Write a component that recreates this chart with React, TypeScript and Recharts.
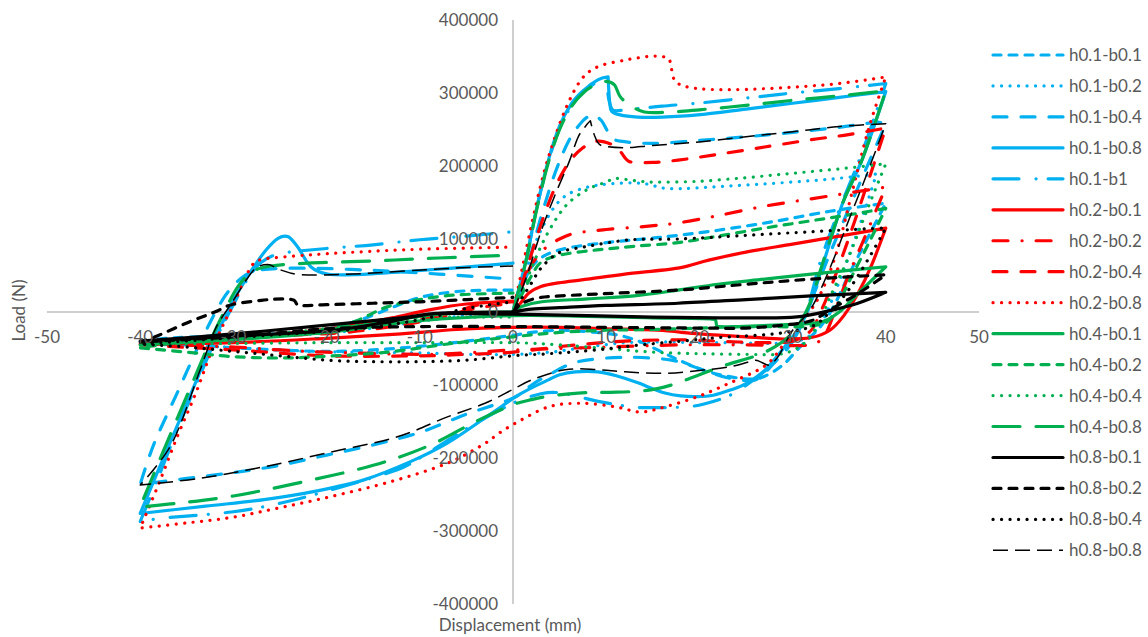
import React from "react"
import { LineChart, Line, XAxis, YAxis, ReferenceLine, ReferenceDot } from "recharts"

type Pt = [number, number]

// displacement (mm), load (N) — each loop: 0 -> +40 -> -40 -> 0
const h01b01: Pt[] = [
  [0, 0], [1, 35000], [2, 62000], [3.5, 78000], [6, 88000], [10, 95000], [14, 100000], [17.7, 105000],
  [22, 112000], [28, 124000], [34, 138000], [40, 149000],
  [38, 100000], [36, 50000], [34.5, 10000], [33, -20000], [31, -45000], [29, -72000], [27, -88000],
  [25.5, -92000], [23, -88000], [20.5, -80000], [18, -67000], [16, -55000], [13.5, -40000], [11, -31000],
  [8, -27000], [5, -25000], [2, -28000], [0, -32000], [-5, -40000], [-10, -47000], [-15, -52000],
  [-20, -54000], [-25, -52000], [-30, -49000], [-35, -45000], [-40, -43000],
  [-38, -37000], [-34, -34000], [-28, -31000], [-22, -27000], [-19, -21000], [-16, -9000], [-13, 6000],
  [-10.5, 18000], [-8, 25000], [-5, 29000], [-2, 30000], [0, 30000],
]

const h01b02: Pt[] = [
  [0, 0], [1, 40000], [2, 80000], [3, 112000], [4.5, 145000], [6, 162000], [8, 171000], [10, 175000],
  [12.7, 177000], [14.5, 175000], [16, 170000], [18, 169000], [21, 171000], [25, 174000], [30, 178000],
  [34, 182000], [37, 186000], [39, 189000],
  [37.5, 130000], [36, 75000], [34.5, 25000], [33.5, -5000], [32.5, -25000], [31, -38000], [28, -43000],
  [24, -42000], [20, -42000], [16, -41000], [12, -42000], [8, -48000], [4, -55000], [0, -58000],
  [-5, -58000], [-10, -56000], [-16, -55000], [-22, -54000], [-28, -50000], [-34, -46000], [-40, -44000],
  [-38, -40000], [-32, -36000], [-26, -33000], [-20, -29000], [-15, -22000], [-10, -13000], [-6, -6000],
  [-3, -2000], [0, -1000],
]

const h01b04: Pt[] = [
  [0, 0], [1.5, 60000], [3, 130000], [4.5, 190000], [6, 235000], [7.5, 262000], [8.5, 270000],
  [9.5, 262000], [10.5, 240000], [11.5, 234000], [15, 231000], [20, 235000], [25, 240000], [30, 246000],
  [35, 253000], [39, 260000], [40, 258000],
  [37, 170000], [34, 80000], [31.5, 0], [30, -40000], [28, -70000], [26, -93000], [23, -90000],
  [20.5, -80000], [17, -66000], [12, -62000], [7, -68000], [4, -85000], [2, -100000], [0, -118000],
  [-5, -140000], [-10, -165000], [-15, -182000], [-20, -196000], [-25, -210000], [-30, -220000],
  [-35, -228000], [-40, -236000],
  [-38.5, -180000], [-36, -110000], [-33.5, -40000], [-31, 20000], [-29, 48000], [-27, 58000],
  [-22, 60000], [-15, 57000], [-8, 52000], [0, 45000],
]

const h01b08: Pt[] = [
  [0, 0], [1.4, 71000], [2.5, 140000], [3.8, 208000], [5, 255000], [6.3, 286000], [7.7, 305000],
  [9.1, 318000], [10.2, 322000], [10.5, 277000], [11.5, 270000], [13.4, 267000], [16, 267000],
  [19.8, 270000], [25, 278000], [30, 286000], [35, 294000], [40, 302000],
  [37.5, 210000], [35.4, 150000], [33.5, 75000], [31.8, 7000], [30.5, -25000], [29, -50000], [27, -80000],
  [25, -98000], [23.3, -107000], [21.5, -114000], [19.8, -116000], [18, -115000], [16.3, -111000],
  [14.8, -104000], [13.4, -97000], [11, -87000], [9.1, -82000], [6.7, -82000], [5, -86000],
  [3.8, -93000], [2, -104000], [0.3, -116000], [-3, -145000], [-7.1, -180000], [-11, -205000],
  [-16, -230000], [-21, -245000], [-26.7, -257000], [-33, -266000], [-40, -276000],
  [-38, -215000], [-36, -155000], [-34, -95000], [-32.5, -48000], [-31, -10000], [-30.2, 12000],
  [-28.8, 42000], [-27.8, 62000], [-26.5, 85000], [-25.2, 101000], [-24.1, 103000], [-23.1, 89000],
  [-21.7, 62000], [-19.9, 52000], [-17.1, 51000], [-12, 55000], [-6.5, 60000], [0, 67000],
]

const h01b1: Pt[] = [
  [0, 0], [1.4, 71000], [2.5, 140000], [3.8, 206000], [5, 252000], [6.3, 283000], [7.7, 303000],
  [9.1, 316000], [10, 320000], [10.3, 290000], [10.8, 276000], [13, 278000], [16, 282000],
  [19.8, 286000], [25, 293000], [30, 300000], [35, 306000], [40, 313000],
  [37.5, 220000], [35, 140000], [33, 70000], [31.5, 0], [30, -40000], [28, -70000], [25.8, -93000],
  [23.3, -114000], [20.5, -126000], [18.4, -130000], [15, -131000], [12.7, -130000], [9, -122000],
  [5.2, -111000], [3, -112000], [0, -125000], [-5, -160000], [-10, -200000], [-12.4, -216000],
  [-19.6, -244000], [-25, -262000], [-30.2, -274000], [-37.3, -282000], [-40, -287000],
  [-38, -225000], [-36, -160000], [-34, -100000], [-32, -40000], [-30, 10000], [-28.5, 45000],
  [-27, 68000], [-25, 80000], [-20, 87000], [-15, 92000], [-10, 99000], [-5, 104000], [0, 110000],
]

const h02b01: Pt[] = [
  [0, 0], [0.8, 12000], [1.7, 26000], [3, 35000], [4.9, 40000], [8, 45000], [12, 52000], [17.7, 60000],
  [21, 71000], [25, 82000], [30, 93000], [35, 104000], [40, 115000],
  [38.5, 65000], [37, 25000], [35.5, -5000], [34, -25000], [32, -35000], [29, -37000], [25, -34000],
  [20, -30000], [15.5, -25000], [10, -23000], [5, -21000], [0, -21000], [-6, -24000], [-12, -30000],
  [-20, -36000], [-30, -42000], [-40, -44000],
  [-36, -38000], [-30, -34000], [-24, -29000], [-18, -20000], [-13, -8000], [-9, 3000], [-5, 11000],
  [0, 15000],
]

const h02b02: Pt[] = [
  [0, 0], [1, 35000], [2, 65000], [3.5, 88000], [5, 100000], [6.7, 108000], [10, 113000], [14, 117000],
  [17.7, 122000], [22, 132000], [27, 145000], [32, 155000], [36, 163000], [40, 171000],
  [38, 110000], [36, 50000], [34.5, 0], [33.5, -30000], [32, -45000], [25, -45000], [18, -45000],
  [10, -48000], [5, -50000], [0, -52000], [-5, -56000], [-10, -58000], [-20, -55000], [-25, -52000],
  [-30, -48000], [-40, -43000],
  [-32, -36000], [-24, -30000], [-18, -24000], [-12, -15000], [-7, -2000], [-3.6, 10000], [0, 14000],
]

const h02b04: Pt[] = [
  [0, 0], [1.5, 60000], [3, 120000], [4.5, 170000], [6, 205000], [7.5, 225000], [9, 234000],
  [10.5, 230000], [11.5, 220000], [12.5, 206000], [15, 205000], [17.7, 208000], [22, 216000],
  [27, 226000], [32, 236000], [36, 243000], [40, 252000],
  [38, 175000], [36, 100000], [34, 30000], [33, 0], [32, -25000], [30, -40000], [27, -42000],
  [22, -40000], [18, -38000], [12, -40000], [6, -46000], [0, -55000], [-5, -58000], [-10, -60000],
  [-20, -60000], [-30, -52000], [-40, -45000],
  [-32, -38000], [-24, -32000], [-18, -28000], [-12, -18000], [-8, -8000], [-4, 5000], [0, 12000],
]

const h02b08: Pt[] = [
  [0, 0], [1, 60000], [2, 120000], [3, 175000], [4, 220000], [5.6, 277000], [7.3, 318000], [9.1, 336000],
  [12, 345000], [14.5, 350000], [16, 350000], [16.8, 345000], [17.3, 318000], [18.5, 309000],
  [21, 305000], [25, 305000], [30, 308000], [35, 313000], [40, 322000],
  [38.2, 253000], [36.5, 170000], [34.7, 81000], [33, 25000], [31.5, -5000], [29.7, -29000],
  [28.6, -52000], [26.9, -75000], [23.3, -97000], [19.8, -116000], [16.3, -130000], [13.7, -137000],
  [11, -130000], [7.3, -125000], [3.8, -130000], [0.3, -152000], [-1.5, -166000], [-3, -180000],
  [-7, -207000], [-13, -232000], [-19.6, -253000], [-25, -268000], [-30, -281000], [-35, -289000],
  [-40, -296000],
  [-38, -235000], [-36, -170000], [-34, -110000], [-32.3, -52000], [-31, -15000], [-30, 10000],
  [-28.8, 45000], [-27.8, 67000], [-26.5, 73000], [-22, 78000], [-17, 82000], [-10, 86000], [0, 89000],
]

const h04b01: Pt[] = [
  [0, 0], [1, 8000], [3.1, 14000], [8, 18000], [13, 22000], [17.7, 30000], [22, 38000], [27, 45000],
  [32, 52000], [36, 57000], [40, 62000],
  [37, 25000], [35, 0], [33, -14000], [28, -18000], [22, -20000], [21.6, -10000], [15, -8000],
  [8, -6000], [0, -5000], [-10, -12000], [-20, -28000], [-30, -38000], [-40, -45000],
  [-32, -38000], [-24, -30000], [-16, -18000], [-10, -6000], [-5, -1000], [0, 0],
]

const h04b02: Pt[] = [
  [0, 0], [1, 25000], [2, 50000], [3, 68000], [5, 78000], [9, 85000], [13, 90000], [17.7, 95000],
  [22, 104000], [27, 115000], [32, 125000], [36, 133000], [40, 142000],
  [38, 90000], [36, 40000], [34.5, 0], [33.5, -15000], [31, -20000], [25, -20000], [20, -22000],
  [15, -24000], [10, -25000], [5, -28000], [0, -34000], [-6.5, -43000], [-13.5, -55000],
  [-20.6, -61000], [-25, -63000], [-30.2, -61000], [-35, -55000], [-40, -49000],
  [-35, -40000], [-28, -34000], [-20.6, -25000], [-17, -13000], [-13.5, 7000], [-10, 17000],
  [-6.5, 23000], [-3, 25000], [0, 26000],
]

const h04b04: Pt[] = [
  [0, 0], [1.5, 45000], [3, 90000], [4.5, 125000], [6, 150000], [8, 168000], [10, 178000], [11, 183000],
  [13, 180000], [15, 178000], [19.8, 179000], [25, 184000], [30, 190000], [35, 196000], [40, 203000],
  [38, 140000], [36, 75000], [34, 20000], [33, -10000], [31.5, -40000], [29, -57000], [25, -58000],
  [20, -57000], [15, -55000], [10, -50000], [5, -45000], [0, -42000], [-10, -42000], [-20, -42000],
  [-30, -43000], [-40, -44000],
  [-32, -37000], [-24, -28000], [-16, -17000], [-10, -8000], [-5, -7000], [0, -7000],
]

const h04b08: Pt[] = [
  [0, 0], [1.4, 70000], [2.5, 138000], [3.8, 205000], [5, 250000], [6.3, 282000], [7.7, 302000],
  [9.1, 313000], [10, 316000], [10.9, 311000], [11.5, 295000], [12.5, 284000], [14.1, 274000],
  [17, 274000], [20, 277000], [25, 283000], [30, 290000], [35, 296000], [40, 303000],
  [37.5, 210000], [35.4, 150000], [33.5, 78000], [31.8, 10000], [30.5, -20000], [29, -40000],
  [26.5, -58000], [23, -72000], [20, -86000], [17, -100000], [14, -108000], [10, -110000], [7, -111000],
  [4, -115000], [2, -120000], [0, -127000], [-4, -150000], [-9, -183000], [-15, -210000],
  [-23, -234000], [-30, -252000], [-36, -262000], [-40, -267000],
  [-38, -205000], [-36, -145000], [-34, -85000], [-32.5, -40000], [-31, 0], [-29.5, 35000],
  [-28, 55000], [-26, 63000], [-22, 67000], [-15, 70000], [-8, 74000], [0, 78000],
]

const h08b01: Pt[] = [
  [0, 0], [2, 4000], [5, 6000], [10, 9000], [17.7, 12000], [25, 17000], [32, 22000], [40, 27000],
  [37, 12000], [34, 2000], [31, -6000], [28, -8000], [22, -8000], [15, -7000], [8, -5000], [0, -3000],
  [-8, -2000], [-12, -8000], [-20, -18000], [-30, -30000], [-40, -40000],
  [-30, -33000], [-20, -26000], [-14, -15000], [-10, -5000], [-7, -1000], [0, 0],
]

const h08b02: Pt[] = [
  [0, 0], [1, 12000], [3, 20000], [8, 24000], [17.7, 30000], [25, 38000], [32, 45000], [40, 51000],
  [37, 25000], [34, 3000], [32, -12000], [29, -18000], [25, -22000], [20, -22000], [10, -21000],
  [0, -20000], [-10, -20000], [-20, -23000], [-30, -34000], [-40, -41000],
  [-38.4, -34000], [-35, -15000], [-32, 0], [-30.2, 10000], [-27, 16000], [-24.6, 18000],
  [-23.5, 16000], [-23, 9000], [-20, 10000], [-15, 12000], [-10, 14000], [-5, 17000], [0, 20000],
]

const h08b04: Pt[] = [
  [0, 0], [1, 20000], [2, 40000], [3, 60000], [4.9, 81000], [8, 90000], [12.7, 99000], [17.7, 100000],
  [25, 105000], [32, 110000], [38, 114000], [40, 115000],
  [38, 70000], [36, 30000], [34, 0], [32, -20000], [28, -30000], [22, -35000], [18, -40000],
  [13, -46000], [9, -52000], [4, -57000], [0, -60000], [-5, -66000], [-10, -68000], [-15, -68000],
  [-20, -66000], [-25, -60000], [-30, -54000], [-35, -48000], [-40, -44000],
  [-32, -37000], [-24, -30000], [-18, -25000], [-12, -15000], [-8, -5000], [-5.7, 3000], [-3, 9000],
  [0, 14000],
]

const h08b08: Pt[] = [
  [0, 0], [1.5, 50000], [3, 110000], [4.5, 160000], [6, 205000], [7, 240000], [8, 258000],
  [8.3, 262000], [8.8, 240000], [9.5, 228000], [12, 225000], [15, 228000], [20, 233000], [25, 240000],
  [30, 247000], [35, 254000], [40, 258000],
  [38, 190000], [36, 125000], [34, 60000], [32, 5000], [30, -25000], [28.5, -60000], [27.5, -73000],
  [26.5, -68000], [26, -66000], [23.3, -75000], [20, -80000], [16.3, -84000], [12, -82000],
  [9.1, -79000], [5.6, -79000], [2, -93000], [0, -106000], [-3, -125000], [-7.1, -144000],
  [-12.4, -171000], [-19.6, -192000], [-26.7, -212000], [-33.7, -228000], [-40, -237000],
  [-36.6, -180000], [-33.7, -84000], [-32, -25000], [-30.2, 12000], [-27.8, 58000], [-26.3, 65000],
  [-25, 58000], [-22.8, 51000], [-17.1, 52000], [-6.5, 60000], [0, 63000],
]

const X_TICKS = [-50, -40, -30, -20, -10, 0, 10, 20, 30, 40, 50]
const Y_TICKS = [-400000, -300000, -200000, -100000, 0, 100000, 200000, 300000, 400000]

const BLUE = "#00B0F0"
const RED = "#FF0000"
const GREEN = "#00B050"
const BLACK = "#000000"

const DASH = "8 8"
const DOT = "0.1 8.4"
const LONG = "14 14"

interface SeriesDef {
  name: string
  pts: Pt[]
  color: string
  dash?: string
  width: number
  cap?: "round" | "butt"
}

const SERIES: SeriesDef[] = [
  { name: "h0.1-b0.1", pts: h01b01, color: BLUE, dash: DASH, width: 3.2 },
  { name: "h0.1-b0.2", pts: h01b02, color: BLUE, dash: DOT, width: 3.2 },
  { name: "h0.1-b0.4", pts: h01b04, color: BLUE, dash: LONG, width: 3.2 },
  { name: "h0.1-b0.8", pts: h01b08, color: BLUE, width: 3.2 },
  { name: "h0.1-b1", pts: h01b1, color: BLUE, dash: "26 17 0.1 12", width: 3.2 },
  { name: "h0.2-b0.1", pts: h02b01, color: RED, width: 3.2 },
  { name: "h0.2-b0.2", pts: h02b02, color: RED, dash: "15 14 0.1 14", width: 3.2 },
  { name: "h0.2-b0.4", pts: h02b04, color: RED, dash: LONG, width: 3.2 },
  { name: "h0.2-b0.8", pts: h02b08, color: RED, dash: DOT, width: 3.2 },
  { name: "h0.4-b0.1", pts: h04b01, color: GREEN, width: 3.2 },
  { name: "h0.4-b0.2", pts: h04b02, color: GREEN, dash: DASH, width: 3.2 },
  { name: "h0.4-b0.4", pts: h04b04, color: GREEN, dash: DOT, width: 3.2 },
  { name: "h0.4-b0.8", pts: h04b08, color: GREEN, dash: "27 16", width: 3.2 },
  { name: "h0.8-b0.1", pts: h08b01, color: BLACK, width: 3.2 },
  { name: "h0.8-b0.2", pts: h08b02, color: BLACK, dash: DASH, width: 3.2 },
  { name: "h0.8-b0.4", pts: h08b04, color: BLACK, dash: DOT, width: 3.2 },
  { name: "h0.8-b0.8", pts: h08b08, color: BLACK, dash: "15 7", width: 1.5, cap: "butt" },
]

const FONT = "Lato, 'Open Sans', sans-serif"
const TEXT = "#595959"

const W = 1148
const H = 637
const MARGIN = { top: 20, right: 169, bottom: 33, left: 47 }

// Smoothed-line curve (Catmull-Rom style Beziers). Tangents are clamped to the
// segment length and shrink at sharp turns so reversals stay crisp.
function smoothCurve(context: any) {
  let pts: [number, number][] = []
  return {
    areaStart() {},
    areaEnd() {},
    lineStart() {
      pts = []
    },
    point(x: number, y: number) {
      pts.push([+x, +y])
    },
    lineEnd() {
      const n = pts.length
      if (!n) return
      context.moveTo(pts[0][0], pts[0][1])
      const tangent = (i: number, len: number) => {
        const a = pts[Math.max(0, i - 1)]
        const p = pts[i]
        const b = pts[Math.min(n - 1, i + 1)]
        let tx = (b[0] - a[0]) / 6
        let ty = (b[1] - a[1]) / 6
        const inX = p[0] - a[0]
        const inY = p[1] - a[1]
        const outX = b[0] - p[0]
        const outY = b[1] - p[1]
        const d = Math.hypot(inX, inY) * Math.hypot(outX, outY)
        const cos = d > 0 ? (inX * outX + inY * outY) / d : 1
        const turn = Math.max(0, cos) ** 0.5
        tx *= turn
        ty *= turn
        const m = Math.hypot(tx, ty)
        const lim = len * 0.4
        if (m > lim && m > 0) {
          tx *= lim / m
          ty *= lim / m
        }
        return [tx, ty]
      }
      for (let i = 0; i < n - 1; i++) {
        const p1 = pts[i]
        const p2 = pts[i + 1]
        const len = Math.hypot(p2[0] - p1[0], p2[1] - p1[1])
        const t1 = tangent(i, len)
        const t2 = tangent(i + 1, len)
        context.bezierCurveTo(p1[0] + t1[0], p1[1] + t1[1], p2[0] - t2[0], p2[1] - t2[1], p2[0], p2[1])
      }
    },
  }
}

function toRows(pts: Pt[]) {
  return pts.map(([x, y]) => ({ x, y }))
}

function LegendBox() {
  return (
    <svg width={163} height={H} style={{ position: "absolute", left: 985, top: 0 }}>
      {SERIES.map((s, i) => {
        const y = 55 + i * 30.96
        return (
          <g key={s.name}>
            <line
              x1={8}
              x2={78}
              y1={y}
              y2={y}
              stroke={s.color}
              strokeWidth={s.width}
              strokeDasharray={s.dash}
              strokeLinecap={s.cap ?? "round"}
            />
            <text x={84} y={y + 6} fill={TEXT} fontSize={17} fontFamily={FONT}>
              {s.name}
            </text>
          </g>
        )
      })}
    </svg>
  )
}

export default function App() {
  return (
    <div style={{ position: "absolute", left: 0, top: 0, width: W, height: H, background: "#fff" }}>
      <LineChart width={W} height={H} margin={MARGIN}>
        <XAxis dataKey="x" type="number" domain={[-50, 50]} ticks={X_TICKS} hide />
        <YAxis type="number" domain={[-400000, 400000]} ticks={Y_TICKS} hide />
        <ReferenceLine x={0} stroke="#BFBFBF" strokeWidth={1.5} />
        <ReferenceLine y={0} stroke="#BFBFBF" strokeWidth={1.5} />
        {X_TICKS.map((t) => (
          <ReferenceDot
            key={`xt${t}`}
            x={t}
            y={0}
            r={0}
            shape={(p: any) => (
              <text x={p.cx} y={p.cy + 31} textAnchor="middle" fill={TEXT} fontSize={17} fontFamily={FONT}>
                {t}
              </text>
            )}
          />
        ))}
        {Y_TICKS.map((t) => (
          <ReferenceDot
            key={`yt${t}`}
            x={0}
            y={t}
            r={0}
            shape={(p: any) => (
              <text x={p.cx - 15} y={p.cy + 6} textAnchor="end" fill={TEXT} fontSize={17} fontFamily={FONT}>
                {t}
              </text>
            )}
          />
        ))}
        {SERIES.map((s) => (
          <Line
            key={s.name}
            name={s.name}
            data={toRows(s.pts)}
            dataKey="y"
            type={smoothCurve as any}
            stroke={s.color}
            strokeWidth={s.width}
            strokeDasharray={s.dash}
            strokeLinecap={s.cap ?? "round"}
            strokeLinejoin="round"
            dot={false}
            activeDot={false}
            isAnimationActive={false}
          />
        ))}
      </LineChart>
      <LegendBox />
      <div
        style={{
          position: "absolute",
          left: 410,
          top: 614,
          width: 200,
          textAlign: "center",
          fontFamily: FONT,
          fontSize: 17,
          color: TEXT,
        }}
      >
        Displacement (mm)
      </div>
      <div
        style={{
          position: "absolute",
          left: -32,
          top: 300,
          width: 100,
          textAlign: "center",
          fontFamily: FONT,
          fontSize: 17,
          color: TEXT,
          transform: "rotate(-90deg)",
        }}
      >
        Load (N)
      </div>
    </div>
  )
}
